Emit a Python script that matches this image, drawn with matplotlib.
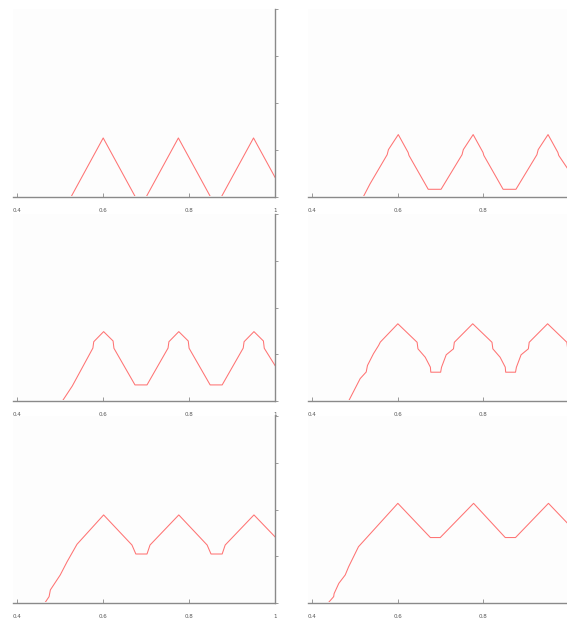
import matplotlib
matplotlib.use("Agg")
import matplotlib.pyplot as plt
from matplotlib.patches import Rectangle

# Piecewise-linear curves, one per panel (vertices x, y)
x1 = [0.39, 0.525, 0.600, 0.675, 0.700, 0.775, 0.850, 0.875, 0.950, 1.000]
y1 = [0.0, 0.0, 0.314, 0.0, 0.0, 0.314, 0.0, 0.0, 0.314, 0.105]

x2 = [0.39, 0.519, 0.535, 0.575, 0.578, 0.601, 0.624, 0.626, 0.671, 0.701,
      0.750, 0.753, 0.776, 0.799, 0.801, 0.846, 0.876,
      0.925, 0.928, 0.951, 0.974, 0.976, 1.000]
y2 = [0.0, 0.0, 0.070, 0.225, 0.252, 0.332, 0.237, 0.221, 0.041, 0.041,
      0.225, 0.252, 0.332, 0.237, 0.221, 0.041, 0.041,
      0.225, 0.252, 0.332, 0.237, 0.221, 0.140]

x3 = [0.39, 0.505, 0.528, 0.576, 0.578, 0.601, 0.623, 0.625, 0.674, 0.702,
      0.751, 0.753, 0.776, 0.798, 0.800, 0.849, 0.877,
      0.926, 0.928, 0.951, 0.973, 0.975, 1.000]
y3 = [0.0, 0.0, 0.080, 0.283, 0.317, 0.371, 0.321, 0.282, 0.086, 0.086,
      0.283, 0.317, 0.371, 0.321, 0.282, 0.086, 0.086,
      0.283, 0.317, 0.371, 0.321, 0.282, 0.190]

x4 = [0.39, 0.485, 0.512, 0.526, 0.529, 0.543, 0.555, 0.559, 0.600,
      0.645, 0.647, 0.664, 0.676, 0.677, 0.700,
      0.702, 0.713, 0.730, 0.732, 0.775,
      0.820, 0.822, 0.839, 0.851, 0.852, 0.875,
      0.877, 0.888, 0.905, 0.907, 0.950,
      0.995, 0.997, 1.000]
y4 = [0.0, 0.0, 0.120, 0.155, 0.190, 0.253, 0.297, 0.315, 0.413,
      0.314, 0.279, 0.234, 0.181, 0.154, 0.154,
      0.180, 0.247, 0.279, 0.314, 0.413,
      0.314, 0.279, 0.234, 0.181, 0.154, 0.154,
      0.180, 0.247, 0.279, 0.314, 0.413,
      0.314, 0.279, 0.275]

x5 = [0.39, 0.464, 0.474, 0.477, 0.500, 0.516, 0.539, 0.601, 0.667, 0.676,
      0.702, 0.709, 0.776, 0.842, 0.851, 0.877, 0.884, 0.951, 1.000]
y5 = [0.0, 0.0, 0.034, 0.070, 0.150, 0.221, 0.314, 0.471, 0.310, 0.262,
      0.262, 0.310, 0.471, 0.310, 0.262, 0.262, 0.310, 0.471, 0.354]

x6 = [0.39, 0.437, 0.450, 0.451, 0.462, 0.477, 0.485, 0.508, 0.600, 0.676,
      0.699, 0.777, 0.851, 0.875, 0.952, 1.000]
y6 = [0.0, 0.0, 0.034, 0.050, 0.105, 0.150, 0.194, 0.301, 0.533, 0.350,
      0.350, 0.533, 0.350, 0.350, 0.533, 0.418]

series = [(x1, y1), (x2, y2), (x3, y3), (x4, y4), (x5, y5), (x6, y6)]

x_ticks = [0.4, 0.6, 0.8, 1.0]
x_tick_labels = ["0.4", "0.6", "0.8", "1"]
y_ticks = [0.0, 0.25, 0.5, 0.75, 1.0]

W, H = 567, 620
fig = plt.figure(figsize=(W / 100, H / 100), dpi=100)
fig.patch.set_facecolor("white")

col_px = [(13, 275), (308, 569)]
row_px = [(9, 197), (214, 401), (416, 603)]

line_color = "#ff7373"
axis_color = "#8a8a8a"

for i, (xs, ys) in enumerate(series):
    r, c = divmod(i, 2)
    l, rt = col_px[c]
    t, b = row_px[r]
    ax = fig.add_axes([l / W, (H - b) / H, (rt - l) / W, (b - t) / H])
    ax.set_facecolor("#fdfdfd")
    (ln,) = ax.plot(xs, ys, color=line_color, lw=0.75, zorder=1)
    # keep the curve's zero stretches hidden behind the x axis line
    clip = Rectangle((0, 1.2 / (b - t)), 1, 1, transform=ax.transAxes)
    ln.set_clip_path(clip)
    ax.set_xlim(0.39, 1.0)
    ax.set_ylim(0.0, 1.0)

    for s in ("left", "top"):
        ax.spines[s].set_visible(False)
    for s in ("bottom", "right"):
        ax.spines[s].set_color(axis_color)
        ax.spines[s].set_linewidth(1.0)
        ax.spines[s].set_zorder(5)

    ax.set_xticks(x_ticks)
    # the right-hand column's last label falls past the figure edge
    labels = x_tick_labels if c == 0 else x_tick_labels[:-1] + [""]
    ax.set_xticklabels(labels)
    ax.tick_params(axis="x", direction="in", length=3, width=0.6,
                   color=axis_color, labelsize=4, labelcolor="#555555", pad=8)

    ax.yaxis.tick_right()
    ax.set_yticks(y_ticks)
    ax.set_yticklabels([])
    ax.tick_params(axis="y", direction="out", length=2.5, width=0.6,
                   color=axis_color)

fig.savefig("out.png", dpi=100)
